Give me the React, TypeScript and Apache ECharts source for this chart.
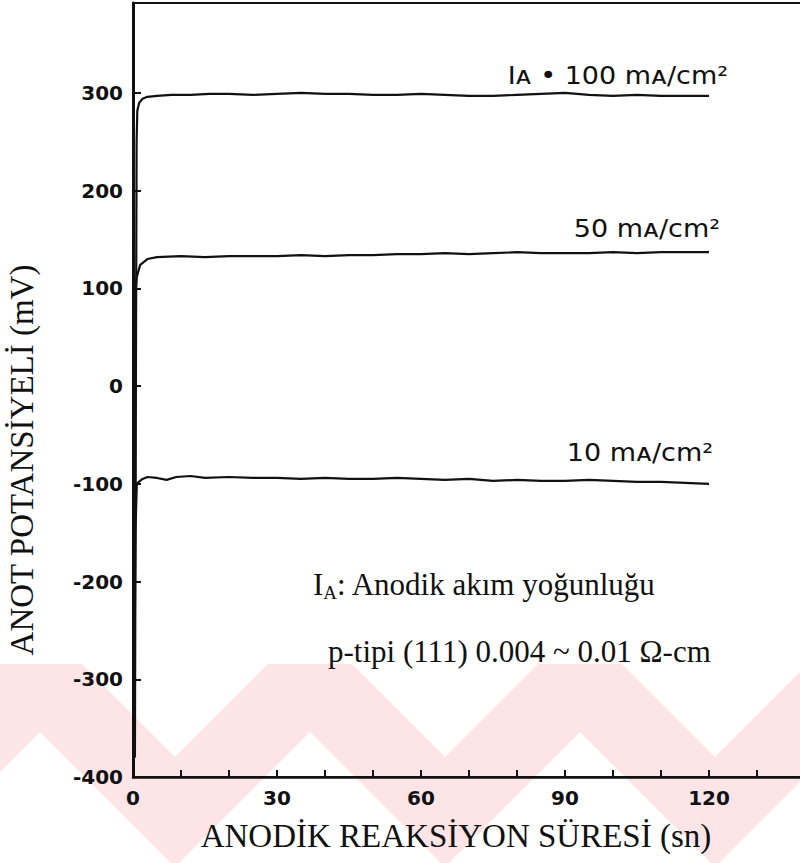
import React, { useEffect, useRef } from "react";
import * as echarts from "echarts";

// Anodic potential (mV) against anodic reaction time (s) for three current densities
const time100 = [0.4, 0.6, 0.75, 0.9, 1.3, 2, 3, 5, 8, 12, 16, 20, 25, 30, 35, 40, 45, 50, 55, 60, 65, 70, 75, 80, 85, 90, 95, 100, 105, 110, 115, 120];
const potential100 = [-380, 0, 250, 282, 290, 294, 296, 297, 298, 298, 299, 299, 298, 299, 300, 299, 299, 298, 298, 299, 298, 297, 297, 298, 299, 300, 298, 297, 298, 297, 297, 297];

const time50 = [0.3, 0.5, 0.6, 0.8, 1.5, 3, 5, 10, 15, 20, 25, 30, 35, 40, 45, 50, 55, 60, 65, 70, 75, 80, 85, 90, 95, 100, 105, 110, 115, 120];
const potential50 = [-380, 0, 100, 112, 124, 130, 132, 133, 132, 133, 133, 133, 134, 133, 134, 134, 135, 135, 136, 135, 136, 137, 136, 136, 136, 137, 136, 137, 137, 137];

const time10 = [0.2, 0.5, 0.8, 1.2, 2, 3, 5, 7, 9, 12, 15, 20, 25, 30, 35, 40, 45, 50, 55, 60, 65, 70, 75, 80, 85, 90, 95, 100, 105, 110, 115, 120];
const potential10 = [-380, -150, -100, -98, -95, -93, -94, -96, -93, -92, -94, -93, -94, -94, -95, -94, -95, -95, -94, -95, -96, -95, -97, -96, -97, -97, -96, -97, -98, -98, -99, -100];

const xTickValues = [10, 20, 30, 40, 50, 60, 70, 80, 90, 100, 110, 120, 130];
const xLabelValues = [0, 30, 60, 90, 120];
const yTickValues = [-300, -200, -100, 0, 100, 200, 300];
const yLabelValues = [-400, -300, -200, -100, 0, 100, 200, 300];

const curveLabels = ["Iᴀ • 100 mᴀ/cm²", "50 mᴀ/cm²", "10 mᴀ/cm²"];
const xTitle = "ANODİK REAKSİYON SÜRESİ (sn)";
const yTitle = "ANOT POTANSİYELİ (mV)";

const ink = "#111111";
const stamp = "#fde5e7";
const serif = "'Liberation Serif', 'Times New Roman', serif";
const sans = "'DejaVu Sans', sans-serif";

function pairs(t: number[], v: number[]) {
  return t.map((x, i) => [x, v[i]]);
}

// Pale zig-zag band printed across the foot of the page
function pageStamp() {
  const top = 664;
  const bottom = 863;
  const period = 270;
  const items: any[] = [
    { type: "rect", z: -10, silent: true, shape: { x: 0, y: top, width: 800, height: bottom - top }, style: { fill: stamp } },
  ];
  for (let k = -1; k <= 3; k++) {
    const cx = 175 + k * period;
    const drop = 757 - top;
    items.push({
      type: "polygon",
      z: -9,
      silent: true,
      shape: { points: [[cx - drop, top], [cx + drop, top], [cx, 757]] },
      style: { fill: "#ffffff" },
    });
    const lx = cx + period / 2;
    const rise = bottom - 732;
    items.push({
      type: "polygon",
      z: -9,
      silent: true,
      shape: { points: [[lx - rise, bottom], [lx + rise, bottom], [lx, 732]] },
      style: { fill: "#ffffff" },
    });
  }
  return items;
}

export default function App() {
  const ref = useRef<HTMLDivElement>(null);

  useEffect(() => {
    if (!ref.current) return;
    const chart = echarts.init(ref.current, null, { renderer: "svg" });

    const lineSeries = (name: string, data: number[][]) => ({
      name,
      type: "line",
      data,
      symbol: "none",
      smooth: false,
      lineStyle: { color: ink, width: 2.2 },
    });

    const curveText = (text: string, right: number, y: number) => ({
      type: "text",
      x: 800 - right,
      y,
      scaleX: 1.08,
      style: {
        text,
        fontFamily: sans,
        fontSize: 25,
        fill: ink,
        textAlign: "right",
        textVerticalAlign: "middle",
      },
    });

    chart.setOption({
      animation: false,
      backgroundColor: "#ffffff",
      grid: {
        left: 133,
        top: 3,
        width: 672,
        height: 774,
        show: true,
        borderColor: ink,
        borderWidth: 2,
        outerBoundsMode: "none",
        containLabel: false,
      },
      xAxis: {
        type: "value",
        min: 0,
        max: 140,
        axisLine: { onZero: false, lineStyle: { color: ink, width: 2.5 } },
        axisTick: { inside: true, length: 7, customValues: xTickValues, lineStyle: { color: ink, width: 2 } },
        axisLabel: {
          customValues: xLabelValues,
          fontFamily: sans,
          fontWeight: "bold",
          fontSize: 20,
          color: ink,
          margin: 11,
        },
        splitLine: { show: false },
      },
      yAxis: {
        type: "value",
        min: -400,
        max: 392,
        axisLine: { onZero: false, lineStyle: { color: ink, width: 3 } },
        axisTick: { inside: true, length: 8, customValues: yTickValues, lineStyle: { color: ink, width: 2 } },
        axisLabel: {
          customValues: yLabelValues,
          fontFamily: sans,
          fontWeight: "bold",
          fontSize: 20,
          color: ink,
          margin: 10,
        },
        splitLine: { show: false },
      },
      graphic: [
        ...pageStamp(),
        curveText(curveLabels[0], 72, 75),
        curveText(curveLabels[1], 80, 228),
        curveText(curveLabels[2], 87, 452),
        {
          type: "text",
          x: 313,
          y: 566,
          style: {
            text: "{b|I}{s|A}{b|: Anodik akım yoğunluğu}",
            rich: {
              b: { fontSize: 31, fontFamily: serif, fill: ink, lineHeight: 36 },
              s: { fontSize: 19, fontFamily: serif, fill: ink, lineHeight: 19, verticalAlign: "bottom" },
            },
          },
        },
        {
          type: "text",
          x: 328,
          y: 651,
          style: {
            text: "p-tipi (111) 0.004 ~ 0.01 Ω-cm",
            fontSize: 31,
            fontFamily: serif,
            fill: ink,
            textVerticalAlign: "middle",
          },
        },
        {
          type: "text",
          x: 456,
          y: 836,
          style: {
            text: xTitle,
            fontSize: 33,
            fontFamily: serif,
            fill: ink,
            textAlign: "center",
            textVerticalAlign: "middle",
          },
        },
        {
          type: "text",
          x: 22,
          y: 460,
          rotation: Math.PI / 2,
          style: {
            text: yTitle,
            fontSize: 33,
            fontFamily: serif,
            fill: ink,
            textAlign: "center",
            textVerticalAlign: "middle",
          },
        },
      ],
      series: [
        lineSeries("100 mA/cm²", pairs(time100, potential100)),
        lineSeries("50 mA/cm²", pairs(time50, potential50)),
        lineSeries("10 mA/cm²", pairs(time10, potential10)),
      ],
    });

    return () => chart.dispose();
  }, []);

  return (
    <div
      ref={ref}
      style={{ position: "absolute", left: 0, top: 0, width: 800, height: 863 }}
    />
  );
}
